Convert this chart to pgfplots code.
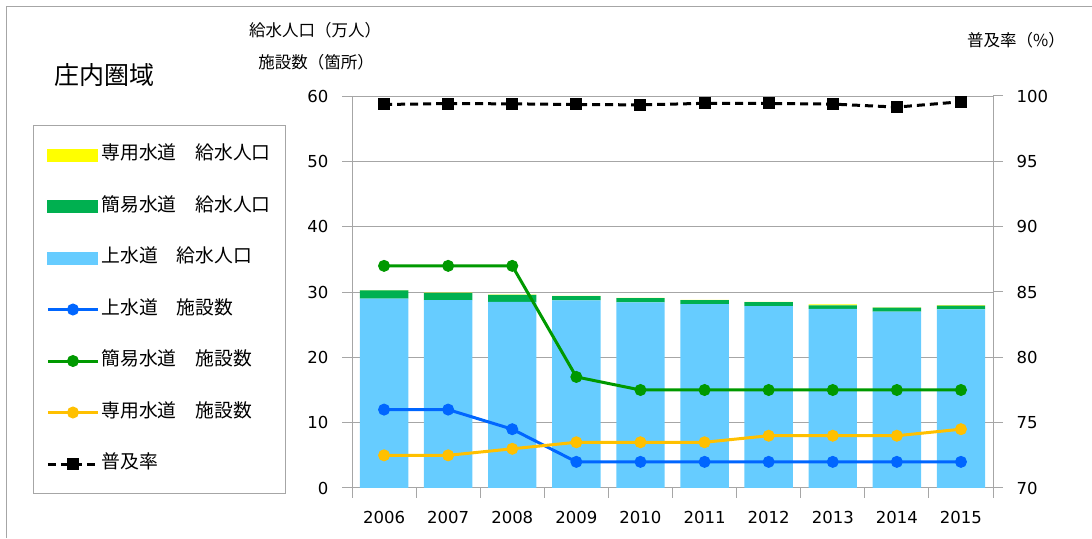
\documentclass[border=0pt]{standalone}
\usepackage{pgfplots}
\pgfplotsset{compat=1.18}
\usepackage{fontspec}
\setmainfont{DejaVu Sans}
\newfontfamily\jp{Noto Sans CJK JP}
\definecolor{barblue}{HTML}{66CCFF}
\definecolor{bargreen}{HTML}{00B050}
\definecolor{baryellow}{HTML}{FFFF00}
\definecolor{lblue}{HTML}{0066FF}
\definecolor{lgreen}{HTML}{009900}
\definecolor{lyellow}{HTML}{FFC000}
\definecolor{axgray}{HTML}{A6A6A6}
\begin{document}
\begin{tikzpicture}[x=1pt,y=1pt]
\path[use as bounding box] (0,0) rectangle (1092,538);
\draw[axgray, line width=1pt] (6,0) -- (6,531) -- (1092,531);
\node[font=\jp\fontsize{25}{25}\selectfont] at (104,463) {庄内圏域};
\node[font=\jp\fontsize{16.5}{16.5}\selectfont] at (315,508) {給水人口（万人）};
\node[font=\jp\fontsize{16.5}{16.5}\selectfont] at (316,476) {施設数（箇所）};
\node[font=\jp\fontsize{16.5}{16.5}\selectfont] at (1016,498) {普及率（\%）};

\pgfplotsset{common/.style={at={(352pt,50pt)}, anchor=south west, scale only axis,
  width=641pt, height=392pt, xmin=-0.5, xmax=9.5,
  axis line style={axgray, line width=1pt},
  tick align=outside, major tick length=10pt,
  every tick/.style={axgray, line width=1pt},
  ticklabel style={font=\fontsize{16.5}{16.5}\selectfont},
  /pgf/number format/assume math mode=true,
  /pgf/number format/1000 sep={}}}

% bars
\begin{axis}[common, ymin=0, ymax=60, ytick={0,10,...,60},
  ybar stacked, bar width=0.755,
  ymajorgrids, grid style={axgray, line width=1pt},
  tick pos=left,
  xtick={-0.5,0.5,...,9.5}, xticklabels={},
  extra x ticks={0,1,2,3,4,5,6,7,8,9},
  extra x tick labels={2006,2007,2008,2009,2010,2011,2012,2013,2014,2015},
  extra x tick style={major tick length=0pt, grid=none},
  xticklabel style={yshift=-20pt},
  yticklabel style={xshift=-10pt}]
\addplot[fill=barblue, draw=none] coordinates {(0,29.0) (1,28.75) (2,28.5) (3,28.7) (4,28.4) (5,28.15) (6,27.85) (7,27.4) (8,27.0) (9,27.35)};
\addplot[fill=bargreen, draw=none] coordinates {(0,1.25) (1,1.1) (2,1.05) (3,0.65) (4,0.65) (5,0.6) (6,0.6) (7,0.55) (8,0.6) (9,0.55)};
\addplot[fill=baryellow, draw=none] coordinates {(0,0.05) (1,0.05) (2,0.05) (3,0.05) (4,0.05) (5,0.05) (6,0.05) (7,0.15) (8,0.05) (9,0.1)};
\end{axis}

% facility lines
\begin{axis}[common, ymin=0, ymax=60, hide axis]
\addplot[lblue, line width=3pt, mark=*, mark size=5.5pt, mark options={line width=1pt}] coordinates {(0,12) (1,12) (2,9) (3,4) (4,4) (5,4) (6,4) (7,4) (8,4) (9,4)};
\addplot[lgreen, line width=3pt, mark=*, mark size=5.5pt, mark options={line width=1pt}] coordinates {(0,34) (1,34) (2,34) (3,17) (4,15) (5,15) (6,15) (7,15) (8,15) (9,15)};
\addplot[lyellow, line width=3pt, mark=*, mark size=5.5pt, mark options={line width=1pt}] coordinates {(0,5) (1,5) (2,6) (3,7) (4,7) (5,7) (6,8) (7,8) (8,8) (9,9)};
\end{axis}

% coverage rate
\begin{axis}[common, ymin=70, ymax=100, ytick={70,75,...,100},
  axis y line*=right, axis x line=none,
  yticklabel style={xshift=10pt},
  legend style={at={(-0.4977,0.926)}, anchor=north west, draw=axgray, line width=1pt,
    font=\jp\fontsize{18.8}{18.8}\selectfont, row sep=30.5pt, inner xsep=13pt, inner ysep=19pt,
    nodes={text height=13pt, text depth=4pt}},
  legend cell align=left,
  legend image code/.code={\draw[mark repeat=2,mark phase=2,#1] plot coordinates {(0pt,0pt) (25pt,0pt) (50pt,0pt)};}]
\addlegendimage{legend image code/.code={\fill[baryellow] (0pt,-6pt) rectangle (50pt,6pt);}}
\addlegendentry{専用水道　給水人口}
\addlegendimage{legend image code/.code={\fill[bargreen] (0pt,-6pt) rectangle (50pt,6pt);}}
\addlegendentry{簡易水道　給水人口}
\addlegendimage{legend image code/.code={\fill[barblue] (0pt,-6pt) rectangle (50pt,6pt);}}
\addlegendentry{上水道　給水人口}
\addlegendimage{lblue, line width=3pt, mark=*, mark size=5.5pt, mark options={line width=1pt}}
\addlegendentry{上水道　施設数}
\addlegendimage{lgreen, line width=3pt, mark=*, mark size=5.5pt, mark options={line width=1pt}}
\addlegendentry{簡易水道　施設数}
\addlegendimage{lyellow, line width=3pt, mark=*, mark size=5.5pt, mark options={line width=1pt}}
\addlegendentry{専用水道　施設数}
\addlegendimage{black, line width=3pt, dash pattern=on 8pt off 5pt, mark=square*, mark size=5.5pt, mark options={solid, line width=1pt}}
\addlegendentry{普及率}
\addplot[black, line width=3pt, dash pattern=on 8pt off 5pt, mark=square*, mark size=5.5pt, mark options={solid, line width=1pt}] coordinates {(0,99.35) (1,99.42) (2,99.4) (3,99.35) (4,99.32) (5,99.44) (6,99.43) (7,99.38) (8,99.15) (9,99.56)};
\end{axis}
\end{tikzpicture}
\end{document}
